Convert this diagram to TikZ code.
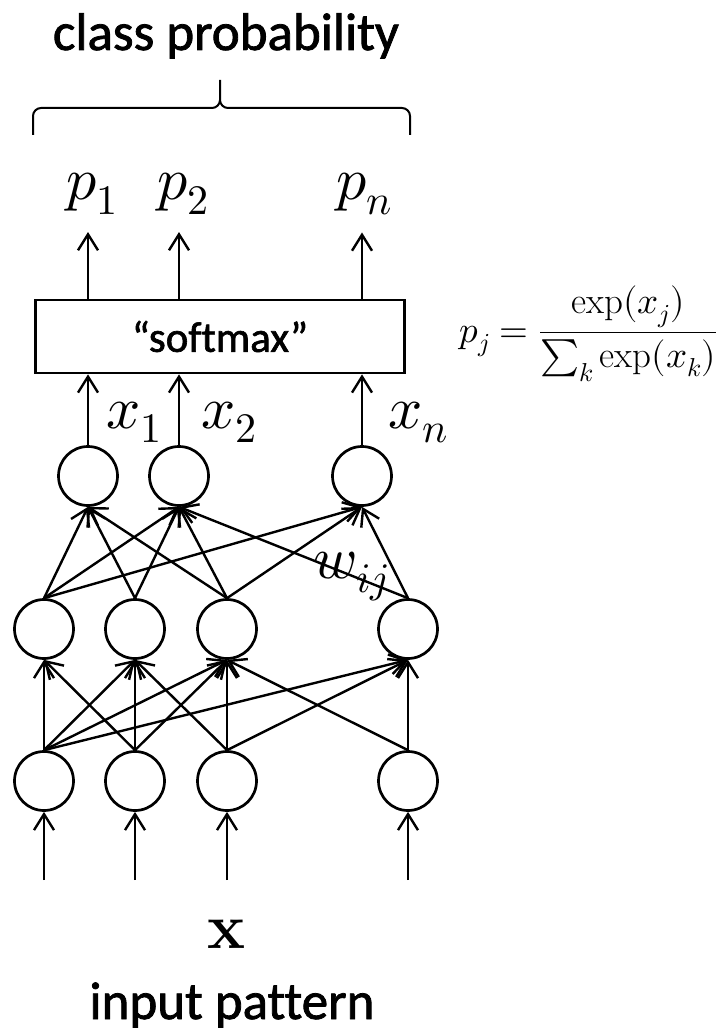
\documentclass[tikz,border=0pt]{standalone}
\usepackage{fontspec}
\usepackage{unicode-math}
\setsansfont{Carlito}[FakeBold=1.5,Ligatures=NoCommon]
\usetikzlibrary{arrows.meta}
\begin{document}
\begin{tikzpicture}[x=1pt,y=-1pt,line width=2.4pt,
		neuron/.style={draw,circle,minimum size=59pt,inner sep=0pt,line width=2.7pt},
		arr/.style={-{Straight Barb[length=16pt,width=20pt]}},
		lab/.style={anchor=base,font=\fontsize{60}{70}\selectfont},
		word/.style={anchor=base,font=\sffamily\fontsize{53}{60}\selectfont}]
	\useasboundingbox (0,0) rectangle (720,1032);
	\node[word] (title) at (226,50) {class probability};
	\draw[rounded corners=8pt,line width=2pt] (33,135)--(33,108)--(220,108)--(220,80)
		(410,135)--(410,108)--(220,108)--(220,80);
	\node[draw,line width=2.7pt,minimum width=369pt,minimum height=73pt,
		font=\sffamily\fontsize{43}{50}\selectfont] (sm) at (220,336.5) {“softmax”};
	\foreach \n/\x in {1/88,2/179,3/362}
		\node[neuron] (T\n) at (\x,476) {};
	\foreach \n/\x in {1/44,2/135,3/227,4/408}{
		\node[neuron] (M\n) at (\x,629) {};
		\node[neuron] (B\n) at (\x,781) {};
		\path (\x,880) coordinate (I\n);
		\draw[arr] (I\n)--(B\n);
	}
	\foreach \a/\b in {1/1,1/2,1/3,1/4,2/1,2/2,2/3,3/2,3/3,3/4,4/3,4/4}
		\draw[arr] (B\a.north)--(M\b.south);
	\foreach \a/\b in {1/1,1/2,1/3,2/1,2/2,3/1,3/2,3/3,4/2,4/3}
		\draw[arr] (M\a.north)--(T\b.south);
	\foreach \n/\x/\t in {1/92/1,2/183/2,3/364/n}{
		\node[lab,inner sep=16pt] (p\n) at (\x,200) {$p_\t$};
		\draw[arr] (T\n.north)--(T\n.north |- sm.south);
		\draw[arr] (sm.north -| T\n)--(p\n.south -| T\n);
	}
	\foreach \n/\x/\t in {1/102/1,2/197/2,3/384/n}
		\node[lab,anchor=base west] (x\n) at (\x,428) {$x_\t$};
	\node[lab,anchor=base west] (w) at (309,578) {$w_{ij}$};
	\node[anchor=base west,font=\fontsize{37}{44}\selectfont] (soft) at (455,342)
		{$\displaystyle p_j=\frac{\exp(x_j)}{\sum_k\exp(x_k)}$};
	\node[lab,font=\fontsize{64}{70}\selectfont] (X) at (227,948) {$\mathbf{x}$};
	\node[word] (input) at (232,1019) {input pattern};
\end{tikzpicture}
\end{document}
